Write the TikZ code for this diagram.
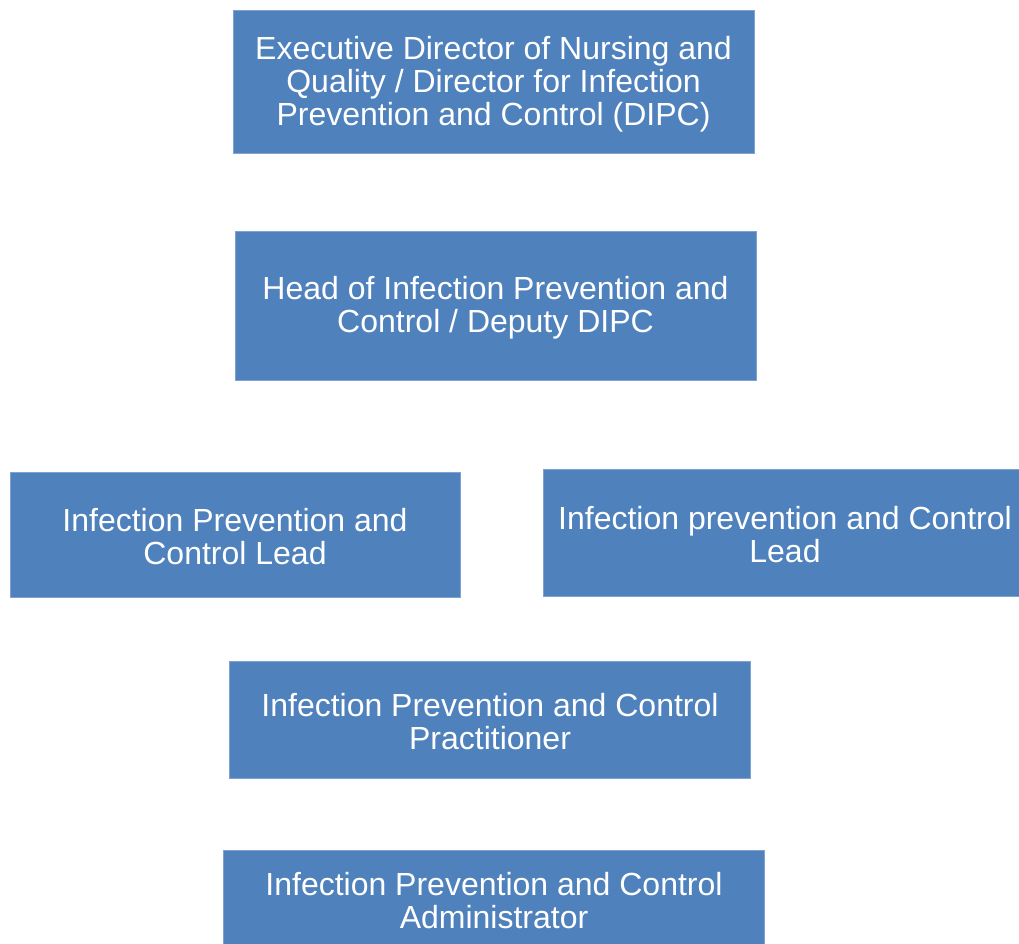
\documentclass[tikz,border=0pt]{standalone}
\usepackage{fontspec}
\setmainfont{Liberation Sans}
\definecolor{boxblue}{HTML}{4F81BD}
\definecolor{boxedge}{HTML}{7FA3D1}
\begin{document}
\begin{tikzpicture}[x=1pt,y=-1pt,
  orgbox/.style={fill=boxblue,draw=boxedge,line width=0.8pt},
  orgtext/.style={text=white,align=center,font=\fontsize{32}{33}\selectfont,inner sep=0pt}]
\useasboundingbox (0,0) rectangle (1019,943);
\begin{scope}
\clip (0,0) rectangle (1019,943);
\draw[orgbox] (233,10) rectangle (754,153);
\node[orgtext] (n1) at (493.5,84) {Executive Director of Nursing and\\Quality / Director for Infection\\Prevention and Control (DIPC)};
\draw[orgbox] (235,231) rectangle (756,380);
\node[orgtext] (n2) at (495.5,308) {Head of Infection Prevention and\\Control / Deputy DIPC};
\draw[orgbox] (10,472) rectangle (460,597);
\node[orgtext] (n3) at (235,536.5) {Infection Prevention and\\Control Lead};
\draw[orgbox] (543,469) rectangle (1027,596);
\node[orgtext] (n4) at (785,534.5) {Infection prevention and Control\\Lead};
\draw[orgbox] (229,661) rectangle (750,778);
\node[orgtext] (n5) at (490,721.5) {Infection Prevention and Control\\Practitioner};
\draw[orgbox] (223,850) rectangle (764,948);
\node[orgtext] (n6) at (494,900.5) {Infection Prevention and Control\\Administrator};
\end{scope}
\end{tikzpicture}
\end{document}
